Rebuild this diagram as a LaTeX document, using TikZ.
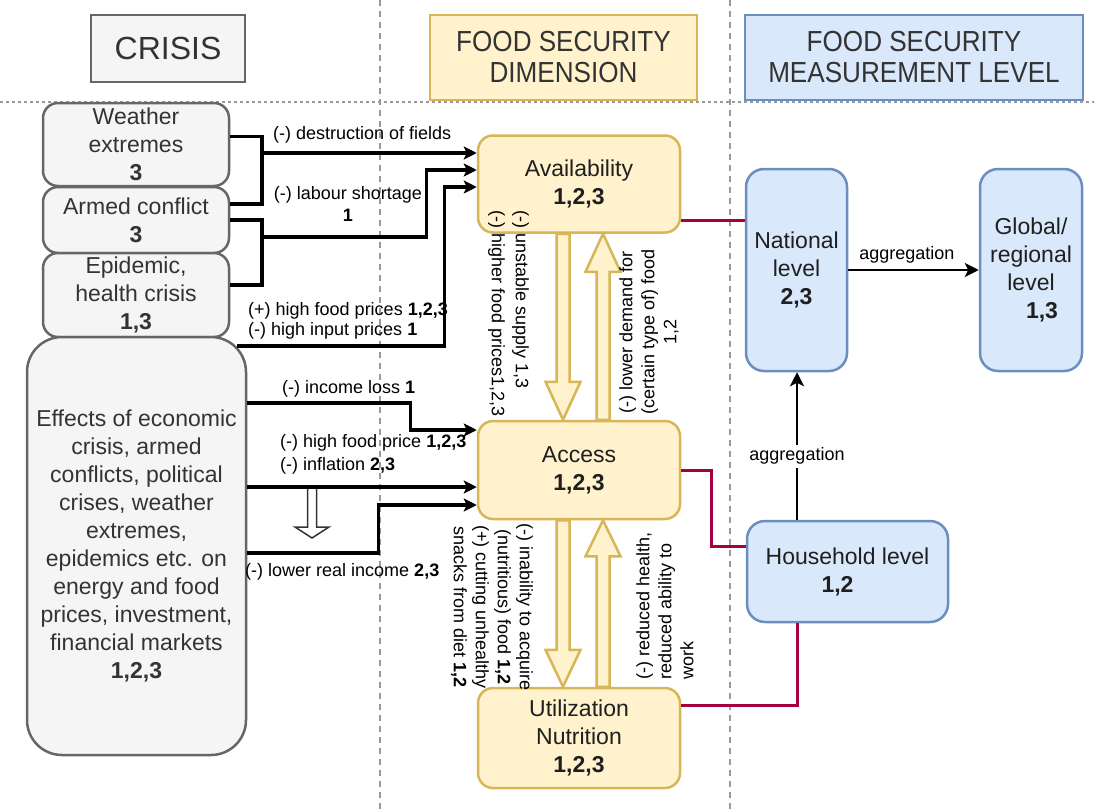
\documentclass[tikz,border=0pt]{standalone}
\usepackage{fontspec}
\setmainfont{Liberation Sans}
\newfontfamily\hdfont[FakeStretch=0.9]{Liberation Sans}
\usetikzlibrary{arrows.meta,calc}
\definecolor{grayfill}{HTML}{F5F5F5}
\definecolor{grayline}{HTML}{666666}
\definecolor{yfill}{HTML}{FFF2CC}
\definecolor{yline}{HTML}{D6B656}
\definecolor{bfill}{HTML}{DAE8FC}
\definecolor{bline}{HTML}{6C8EBF}
\definecolor{crim}{HTML}{A50040}
\definecolor{txtgray}{HTML}{333333}
\definecolor{sepgray}{HTML}{9A9A9A}
% #1 style, #2 start, #3 end, #4 shaft half width, #5 head half width, #6 signed head length (+ for downward)
\newcommand{\blkarrow}[6]{%
  \draw[#1] let \p1=(#2), \p2=(#3) in
    (\x1-#4pt,\y1) -- (\x1-#4pt,\y2#6) -- (\x1-#5pt,\y2#6) -- (\x1,\y2) --
    (\x1+#5pt,\y2#6) -- (\x1+#4pt,\y2#6) -- (\x1+#4pt,\y1) -- cycle;}
\begin{document}
\begin{tikzpicture}[x=1pt,y=-1pt,
  box/.style={draw, line width=2.5pt, rounded corners=15pt, align=center, inner sep=0pt, font=\fontsize{23}{28}\selectfont},
  graybox/.style={box, fill=grayfill, draw=grayline, text=txtgray},
  ybox/.style={box, fill=yfill, draw=yline, text=black!88, minimum width=202pt},
  bbox/.style={box, fill=bfill, draw=bline, text=black!88, rounded corners=18pt},
  hdbox/.style={draw, line width=1.5pt, align=center, inner sep=0pt, text=txtgray, font=\hdfont\fontsize{29}{31}\selectfont},
  lbl/.style={inner sep=0pt, text=black, font=\fontsize{18}{22}\selectfont},
  conn/.style={line width=3.2pt, black},
  arr/.style={conn, -{Stealth[length=13pt,width=13pt,inset=3pt]}},
  arrthin/.style={line width=2.8pt, black, -{Stealth[length=14pt,width=14pt,inset=3.5pt]}},
  crimline/.style={line width=3pt, crim},
  sepline/.style={sepgray, line width=1.5pt, dash pattern=on 6pt off 5pt},
  yblock/.style={draw=yline, fill=yfill, line width=2.5pt, line join=miter},
  wblock/.style={draw=black!80, fill=white, line width=1.5pt, line join=miter}
]
\useasboundingbox (0,0) rectangle (1094,811);

% separators
\coordinate (s1t) at (380,0); \coordinate (s1b) at (380,811);
\coordinate (s2t) at (730,0); \coordinate (s2b) at (730,811);
\coordinate (hl) at (0,102); \coordinate (hr) at (1094,102);
\draw[sepline] (s1t) -- (s1b);
\draw[sepline] (s2t) -- (s2b);
\draw[sepgray, line width=2pt, dash pattern=on 3pt off 3pt] (hl) -- (hr);

% headers
\node[hdbox, fill=grayfill, draw=grayline, minimum width=154pt, minimum height=67pt, font=\fontsize{32}{36}\selectfont] (crisis) at (168,48.5) {CRISIS};
\node[hdbox, fill=yfill, draw=yline, minimum width=267pt, minimum height=85pt] (dim) at (563.5,57.5) {FOOD SECURITY\\DIMENSION};
\node[hdbox, fill=bfill, draw=bline, minimum width=338pt, minimum height=85pt] (meas) at (914,57.5) {FOOD SECURITY\\MEASUREMENT LEVEL};

% crisis boxes
\node[graybox, minimum width=186pt, minimum height=83pt] (weather) at (136,144.5) {Weather\\extremes\\\textbf{3}};
\node[graybox, minimum width=186pt, minimum height=66pt] (armed) at (136,220) {Armed conflict\\\textbf{3}};
\node[graybox, minimum width=186pt, minimum height=84pt] (epid) at (136,295) {Epidemic,\\health crisis\\\textbf{1,3}};
\node[graybox, minimum width=219pt, minimum height=418pt, rounded corners=35pt] (effects) at (136.5,546) {Effects of economic\\crisis, armed\\conflicts, political\\crises, weather\\extremes,\\epidemics etc. on\\energy and food\\prices, investment,\\financial markets\\\textbf{1,2,3}};

% dimension boxes
\node[ybox, minimum height=97pt] (avail) at (579,184) {Availability\\\textbf{1,2,3}};
\node[ybox, minimum height=98pt] (access) at (579,470) {Access\\\textbf{1,2,3}};
\node[ybox, minimum height=100pt] (util) at (579,738) {Utilization\\Nutrition\\\textbf{1,2,3}};

% hollow block arrows between dimensions
\coordinate (b1s) at ([xshift=-16pt]avail.south); \coordinate (b1e) at ([xshift=-16pt]access.north);
\coordinate (b2s) at ([xshift=24pt]access.north); \coordinate (b2e) at ([xshift=24pt]avail.south);
\coordinate (b3s) at ([xshift=-16pt]access.south); \coordinate (b3e) at ([xshift=-16pt]util.north);
\coordinate (b4s) at ([xshift=24pt]util.north); \coordinate (b4e) at ([xshift=24pt]access.south);
\blkarrow{yblock}{b1s}{b1e}{6.5}{17.5}{+38pt}
\blkarrow{yblock}{b2s}{b2e}{6.5}{17.5}{-38pt}
\blkarrow{yblock}{b3s}{b3e}{6.5}{17.5}{+37pt}
\blkarrow{yblock}{b4s}{b4e}{6.5}{17.5}{-36pt}

% measurement level boxes
\node[bbox, minimum width=101pt, minimum height=202pt] (national) at (796.5,270) {National\\level\\\textbf{2,3}};
\node[bbox, minimum width=102pt, minimum height=202pt] (global) at (1031,270) {Global/\\regional\\level\\\hspace*{22pt}\textbf{1,3}};
\node[bbox, minimum width=201pt, minimum height=101pt] (household) at (847.5,571.5) {Household level\\\textbf{1,2}\hspace*{20pt}};

% crisis -> availability
\coordinate (w1) at ([yshift=8pt]weather.east);
\coordinate (a1) at ([yshift=16pt]armed.east);
\coordinate (a2) at (armed.east);
\coordinate (e2) at ([yshift=10pt]epid.east);
\coordinate (j1) at (262,153);
\coordinate (j2) at (262,237);
\coordinate (k1) at (237,346);
\coordinate (t2) at ([yshift=14pt]avail.west);
\coordinate (t3) at ([yshift=-3pt]avail.west);
\draw[conn] (w1) -| (j1) |- (a1);
\draw[arr] (j1) -- (j1 -| avail.west);
\draw[conn] (a2) -| (j2) |- (e2);
\draw[arr] (j2) -| ($(t2)+(-50,0)$) -- (t2);
\draw[arr] (k1) -| ($(t3)+(-32,0)$) -- (t3);

% crisis -> access
\coordinate (i1) at ([yshift=143pt]effects.east); \coordinate (ti1) at ([yshift=40pt]access.west);
\coordinate (i2) at ([yshift=59pt]effects.east); \coordinate (ti2) at ([yshift=-17pt]access.west);
\coordinate (i3) at ([yshift=-7pt]effects.east); \coordinate (ti3) at ([yshift=-35pt]access.west);
\coordinate (wb1) at (312,487); \coordinate (wb2) at (312,538);
\blkarrow{wblock}{wb1}{wb2}{4.5}{17}{+11pt}
\draw[arr] (i1) -| ($(ti1)+(-66,0)$) -- (ti1);
\draw[arr] (i2) -- (ti2);
\draw[arr] (i3) -| ($(ti3)+(-98,0)$) -- (ti3);

% aggregation arrows
\draw[arrthin] (national.east) -- node[lbl, pos=0.45, above=5pt] (ag1) {aggregation} (global.west);
\coordinate (hhtop) at ([xshift=-50.5pt]household.north);
\draw[arrthin] (hhtop) -- node[lbl, pos=0.43, fill=white, inner sep=3pt] (ag2) {aggregation} (hhtop |- national.south);

% crimson links
\coordinate (r1) at ([yshift=-36pt]avail.east);
\draw[crimline] (r1) -- (r1 -| national.west);
\coordinate (r2) at ([yshift=25.5pt]household.west);
\draw[crimline] (access.east) -| ($(r2)+(-34,0)$) -- (r2);
\coordinate (r3) at ([xshift=-50.5pt]household.south);
\coordinate (r4) at ([yshift=33pt]util.east);
\draw[crimline] (r3) |- (r4);

% edge labels
\node[lbl, anchor=west] (l1) at (273,135) {(-) destruction of fields};
\node[lbl, align=center] (l2) at (348,204) {(-) labour shortage\\\textbf{1}};
\node[lbl, anchor=west] (l3) at (248,311) {(+) high food prices \textbf{1,2,3}};
\node[lbl, anchor=west] (l4) at (248,331) {(-) high input prices \textbf{1}};
\node[lbl, anchor=west] (l5) at (282,389) {(-) income loss \textbf{1}};
\node[lbl, anchor=west] (l6) at (280,443) {(-) high food price \textbf{1,2,3}};
\node[lbl, anchor=west] (l7) at (280,466) {(-) inflation \textbf{2,3}};
\node[lbl, anchor=west] (l8) at (245,572) {(-) lower real income \textbf{2,3}};

% rotated labels
\node[lbl, rotate=-90, anchor=north west, align=left, font=\fontsize{18}{24}\selectfont] (rl1) at (529,210) {(-) unstable supply 1,3\\(-) higher food prices1,2,3};
\node[lbl, rotate=90, align=center] (rl2) at (649,332) {(-) lower demand for\\(certain type of) food\\1,2};
\node[lbl, rotate=-90, align=center] (rl3) at (492,607) {(-) inability to acquire\\(nutritious) food \textbf{1,2}\\(+) cutting unhealthy\\snacks from diet \textbf{1,2}};
\node[lbl, rotate=90, anchor=north west, align=left] (rl4) at (636,680) {(-) reduced health,\\reduced ability to\\work};
\end{tikzpicture}
\end{document}
